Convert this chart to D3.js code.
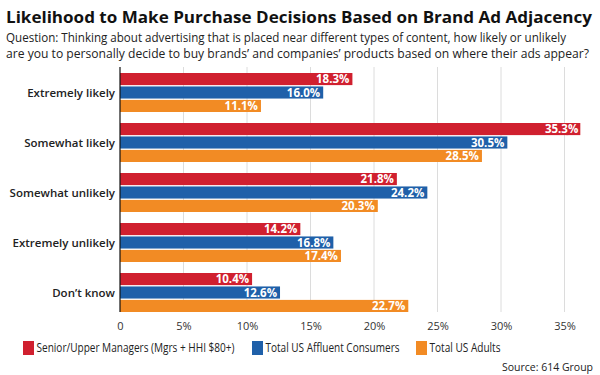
<!DOCTYPE html>
<html>
<head>
<meta charset="utf-8">
<script src="https://cdn.jsdelivr.net/npm/d3@7"></script>
<style>
  body { margin: 0; background: #fff; }
  svg { display: block; font-family: "Open Sans", sans-serif; }
</style>
</head>
<body>
<svg id="chart" width="600" height="375"></svg>
<script>
const categories = ["Extremely likely", "Somewhat likely", "Somewhat unlikely", "Extremely unlikely", "Don\u2019t know"];
const seriesNames = ["Senior/Upper Managers (Mgrs + HHI $80+)", "Total US Affluent Consumers", "Total US Adults"];
const seniorValues = [18.3, 35.3, 21.8, 14.2, 10.4];
const affluentValues = [16.0, 30.5, 24.2, 16.8, 12.6];
const adultsValues = [11.1, 28.5, 20.3, 17.4, 22.7];
const xTicks = [0, 5, 10, 15, 20, 25, 30, 35];

const colors = ["#d0202f", "#1f60a9", "#f28b24"];
const textColor = "#222";
const gridColor = "#dcdcdc";

const svg = d3.select("#chart");
const plotLeft = 120;
const plotRight = 564.5;
const plotTop = 67.5;
const plotBottom = 317.5;

const series = [seniorValues, affluentValues, adultsValues];

const x = d3.scaleLinear().domain([0, 35]).range([plotLeft, plotRight]);
const y = d3.scaleBand().domain(categories).range([plotTop, plotBottom]).paddingInner(0).paddingOuter(0);
const yInner = d3.scaleBand().domain([0, 1, 2]).range([5.5, 44.5]).paddingInner(0.1);

// title and question (condensed face in the original, so squeeze to width)
svg.append("text")
  .attr("x", 6).attr("y", 23)
  .attr("font-size", 16.5).attr("font-weight", 700)
  .attr("fill", "#111")
  .attr("textLength", 586).attr("lengthAdjust", "spacingAndGlyphs")
  .text("Likelihood to Make Purchase Decisions Based on Brand Ad Adjacency");

const question = [
  "Question: Thinking about advertising that is placed near different types of content, how likely or unlikely",
  "are you to personally decide to buy brands\u2019 and companies\u2019 products based on where their ads appear?"
];
const qLengths = [560, 583];
question.forEach((line, i) => {
  svg.append("text")
    .attr("x", 6).attr("y", 42 + i * 16)
    .attr("font-size", 12).attr("fill", "#222")
    .attr("textLength", qLengths[i]).attr("lengthAdjust", "spacingAndGlyphs")
    .text(line);
});

// grid
svg.append("g")
  .selectAll("line")
  .data(xTicks.filter(d => d > 0))
  .join("line")
  .attr("x1", d => x(d)).attr("x2", d => x(d))
  .attr("y1", 67).attr("y2", 312)
  .attr("stroke", gridColor).attr("stroke-width", 1);

// x axis labels
const xAxis = svg.append("g")
  .attr("transform", `translate(0, 312)`)
  .call(d3.axisBottom(x).tickValues(xTicks).tickSize(0).tickPadding(10)
    .tickFormat(d => d === 0 ? "0" : d + "%"));
xAxis.select(".domain").remove();
xAxis.selectAll("text")
  .attr("font-family", "Open Sans, sans-serif")
  .attr("font-size", 11).attr("fill", "#333");

// bars
const groups = svg.append("g")
  .selectAll("g")
  .data(categories)
  .join("g")
  .attr("transform", d => `translate(0, ${y(d)})`);

groups.each(function (cat, ci) {
  const g = d3.select(this);
  series.forEach((values, si) => {
    const v = values[ci];
    const by = yInner(si);
    const bh = yInner.bandwidth();
    g.append("rect")
      .attr("x", x(0)).attr("y", by)
      .attr("width", x(v) - x(0)).attr("height", bh)
      .attr("fill", colors[si]);
    const label = g.append("text")
      .attr("x", x(v) - 3).attr("y", by + bh / 2)
      .attr("dy", "0.36em")
      .attr("text-anchor", "end")
      .attr("font-size", 11.5).attr("font-weight", 700)
      .attr("fill", "#fff")
      .text(v.toFixed(1) + "%");
    // label box sticks out past the bar end near the right edge
    if (x(v) + 10 > plotRight) {
      g.insert("rect", "text")
        .attr("x", x(v) - 2).attr("y", by)
        .attr("width", 14).attr("height", bh)
        .attr("fill", colors[si]);
      label.attr("x", x(v) + 10);
    }
  });
});

// y category labels
svg.append("g")
  .selectAll("text")
  .data(categories)
  .join("text")
  .attr("x", 115)
  .attr("y", d => y(d) + y.bandwidth() / 2)
  .attr("dy", "0.36em")
  .attr("text-anchor", "end")
  .attr("font-size", 11.5).attr("font-weight", 600)
  .attr("fill", textColor)
  .text(d => d);

// y axis line
svg.append("line")
  .attr("x1", plotLeft).attr("x2", plotLeft)
  .attr("y1", 67).attr("y2", 312)
  .attr("stroke", "#111").attr("stroke-width", 1.2);

// legend
const legendX = [23, 252, 416];
const legendTextLen = [198, 134, 71];
const legend = svg.append("g")
  .selectAll("g")
  .data(seriesNames)
  .join("g")
  .attr("transform", (d, i) => `translate(${legendX[i]}, 341)`);
legend.append("rect")
  .attr("width", 11).attr("height", 14)
  .attr("fill", (d, i) => colors[i]);
legend.append("text")
  .attr("x", 13.5).attr("y", 7).attr("dy", "0.36em")
  .attr("font-size", 12).attr("fill", "#222")
  .attr("textLength", (d, i) => legendTextLen[i]).attr("lengthAdjust", "spacingAndGlyphs")
  .text(d => d);

// source
svg.append("text")
  .attr("x", 593).attr("y", 367).attr("dy", "0.36em")
  .attr("text-anchor", "end")
  .attr("font-size", 10.5).attr("fill", "#222")
  .text("Source: 614 Group");
</script>
</body>
</html>
